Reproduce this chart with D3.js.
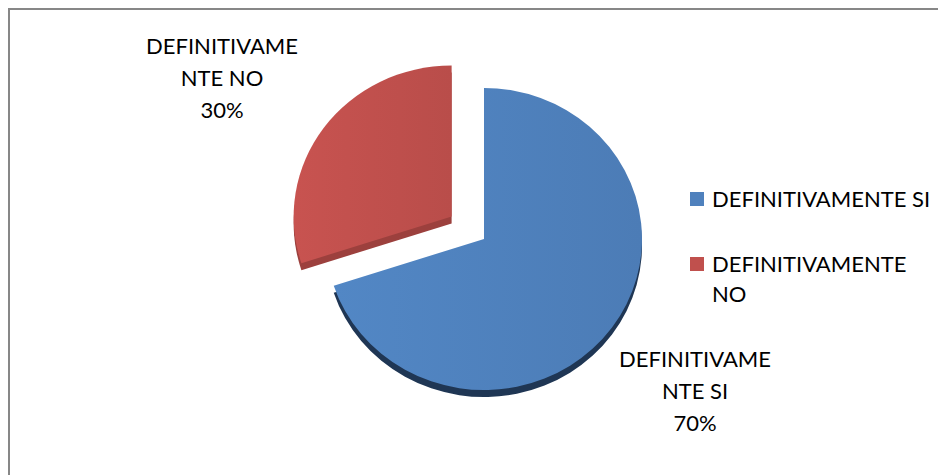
<!DOCTYPE html>
<html>
<head>
<meta charset="utf-8">
<script src="https://cdn.jsdelivr.net/npm/d3@7"></script>
<style>
  html, body { margin: 0; padding: 0; background: #fff; }
  svg { display: block; }
  text { font-family: Lato, "Open Sans", sans-serif; fill: #000; }
</style>
</head>
<body>
<svg id="chart" width="938" height="475"></svg>
<script>
// ---- data ----
const categories = ["DEFINITIVAMENTE SI", "DEFINITIVAMENTE NO"];
const values = [70, 30];
const sliceColors = ["#4F81BD", "#C0504D"];
const sideColors = ["#1F3654", "#9C403D"];

// ---- layout ----
const W = 938, H = 475;
const cx = 484, cy = 239;      // pie centre
const rx = 158, ry = 151;      // ellipse radii (slight tilt)
const depth = 7;               // 3D thickness
const explode = [0, 40];       // explosion per slice
const labelAnchors = [[695, 352], [222, 39]];
const fontSize = 22;

const svg = d3.select("#chart");

// border
svg.append("rect")
  .attr("x", 9).attr("y", 9)
  .attr("width", W + 20).attr("height", H + 20)
  .attr("fill", "none").attr("stroke", "#878787").attr("stroke-width", 2);

const defs = svg.append("defs");
sliceColors.forEach((c, i) => {
  const g = defs.append("linearGradient").attr("id", "g" + i)
    .attr("x1", 0).attr("y1", 0).attr("x2", 1).attr("y2", 0);
  g.append("stop").attr("offset", "0%").attr("stop-color", d3.color(c).brighter(0.12).formatHex());
  g.append("stop").attr("offset", "100%").attr("stop-color", d3.color(c).darker(0.1).formatHex());
});

const pie = d3.pie().sort(null).value(d => d)(values);
const arc = d3.arc().innerRadius(0).outerRadius(rx);

const slices = pie.map((p, i) => {
  const mid = (p.startAngle + p.endAngle) / 2;
  const ox = Math.sin(mid) * explode[i];
  const oy = -Math.cos(mid) * explode[i] * ry / rx;
  return { p, i, x: cx + ox, y: cy + oy };
});

// sides (drawn first)
slices.forEach(s => {
  svg.append("path")
    .attr("d", arc(s.p))
    .attr("transform", `translate(${s.x},${s.y + depth}) scale(1,${ry / rx})`)
    .attr("fill", sideColors[s.i]);
});
// tops
slices.forEach(s => {
  svg.append("path")
    .attr("d", arc(s.p))
    .attr("transform", `translate(${s.x},${s.y}) scale(1,${ry / rx})`)
    .attr("fill", `url(#g${s.i})`);
});

// data labels
const total = d3.sum(values);
slices.forEach(s => {
  const name = categories[s.i];
  const lines = [name.slice(0, 12), name.slice(12), Math.round(values[s.i] / total * 100) + "%"];
  const [lx, ly] = labelAnchors[s.i];
  const t = svg.append("text")
    .attr("x", lx).attr("y", ly)
    .attr("text-anchor", "middle")
    .attr("font-size", fontSize);
  lines.forEach((l, k) => {
    t.append("tspan").attr("x", lx).attr("y", ly + 15 + k * 32).text(l);
  });
});

// legend
const legendX = 690, legendY = [192, 257];
categories.forEach((c, i) => {
  svg.append("rect")
    .attr("x", legendX).attr("y", legendY[i])
    .attr("width", 14).attr("height", 14)
    .attr("fill", sliceColors[i]);
  const words = i === 0 ? [c] : [c.split(" ")[0], c.split(" ")[1]];
  const t = svg.append("text").attr("font-size", fontSize);
  words.forEach((w, k) => {
    t.append("tspan").attr("x", legendX + 22).attr("y", legendY[i] + 15 + k * 30).text(w);
  });
});
</script>
</body>
</html>
